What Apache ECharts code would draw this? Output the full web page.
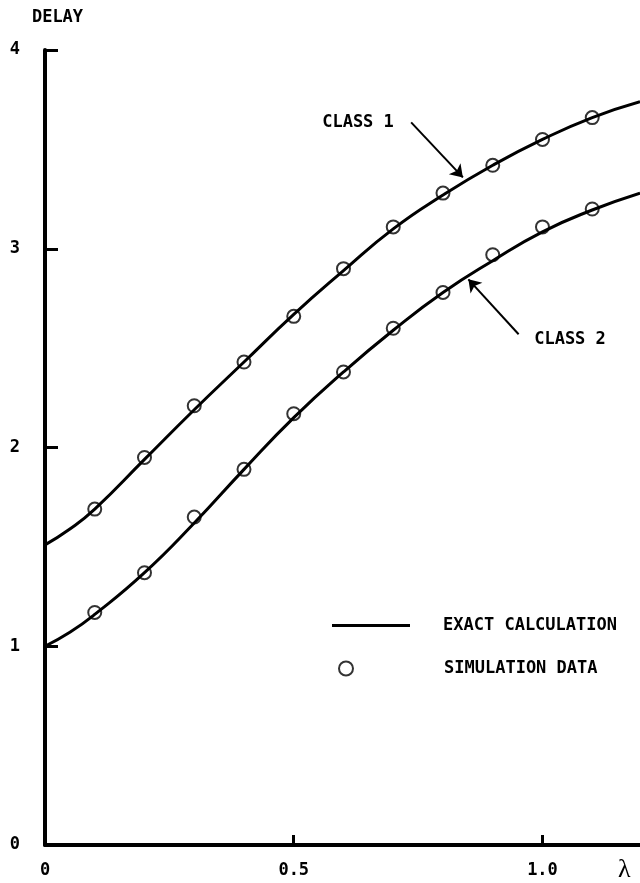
<!DOCTYPE html>
<html>
<head>
<meta charset="utf-8">
<script src="https://cdn.jsdelivr.net/npm/echarts@6/dist/echarts.min.js"></script>
<style>
html,body{margin:0;padding:0;background:#fff;}
#chart{width:640px;height:883px;}
</style>
</head>
<body>
<div id="chart"></div>
<script>
// ---- data ----
const lambdaSim = [0.1, 0.2, 0.3, 0.4, 0.5, 0.6, 0.7, 0.8, 0.9, 1.0, 1.1];
const class1Sim = [1.69, 1.95, 2.21, 2.43, 2.66, 2.90, 3.11, 3.28, 3.42, 3.55, 3.66];
const class2Sim = [1.17, 1.37, 1.65, 1.89, 2.17, 2.38, 2.60, 2.78, 2.97, 3.11, 3.20];

const lambdaExact = [0, 0.05, 0.1, 0.2, 0.3, 0.4, 0.5, 0.6, 0.7, 0.8, 0.9, 1.0, 1.1, 1.196];
const class1Exact = [1.51, 1.59, 1.69, 1.94, 2.19, 2.43, 2.67, 2.89, 3.10, 3.27, 3.42, 3.55, 3.66, 3.74];
const class2Exact = [1.00, 1.07, 1.16, 1.37, 1.62, 1.89, 2.15, 2.38, 2.59, 2.78, 2.94, 3.085, 3.195, 3.28];

const xTickLabels = ['0', '0.5', '1.0'];
const yTickLabels = ['0', '1', '2', '3', '4'];

// annotation arrows (data coordinates: tail -> head)
const arrowClass1 = [[0.736, 3.636], [0.840, 3.359]];
const arrowClass2 = [[0.952, 2.570], [0.851, 2.846]];

const zip = (xs, ys) => xs.map((x, i) => [x, ys[i]]);
const FONT = '"DejaVu Sans Mono", "Liberation Mono", monospace';

const chart = echarts.init(document.getElementById('chart'), null, {renderer: 'canvas'});
const option = {
  backgroundColor: '#fff',
  animation: false,
  grid: {left: 45, right: -3, top: 50, bottom: 38, containLabel: false},
  xAxis: {
    type: 'value', min: 0, max: 1.196, interval: 0.5,
    name: 'λ', nameLocation: 'end', nameGap: -22,
    nameTextStyle: {fontFamily: '"Liberation Serif", "DejaVu Serif", serif', fontSize: 26, color: '#000', verticalAlign: 'top', padding: [12, 0, 0, 0]},
    axisLine: {show: true, lineStyle: {color: '#000', width: 4}},
    axisTick: {show: true, inside: true, length: 10, lineStyle: {color: '#000', width: 3}},
    axisLabel: {
      show: true, margin: 17, color: '#000', fontFamily: FONT, fontWeight: 'bold', fontSize: 17,
      showMaxLabel: false,
      formatter: v => { const i = Math.round(v / 0.5); return (Math.abs(v - i * 0.5) < 1e-6 && xTickLabels[i] !== undefined) ? xTickLabels[i] : ''; }
    },
    splitLine: {show: false}
  },
  yAxis: {
    type: 'value', min: 0, max: 4, interval: 1,
    name: 'DELAY', nameLocation: 'end', nameGap: 24,
    nameTextStyle: {fontFamily: FONT, fontWeight: 'bold', fontSize: 17, color: '#000', align: 'center', padding: [0, 0, 0, 25]},
    axisLine: {show: true, lineStyle: {color: '#000', width: 4}},
    axisTick: {show: true, inside: true, length: 13, lineStyle: {color: '#000', width: 3}},
    axisLabel: {
      show: true, margin: 25, color: '#000', fontFamily: FONT, fontWeight: 'bold', fontSize: 17,
      padding: [8, 0, 0, 0],
      formatter: v => yTickLabels[Math.round(v)] !== undefined ? yTickLabels[Math.round(v)] : ''
    },
    splitLine: {show: false}
  },
  legend: [
    {
      data: [{name: 'EXACT CALCULATION', icon: 'rect', itemStyle: {color: '#000', borderWidth: 0}}],
      selectedMode: false, orient: 'vertical',
      left: 332, top: 617, padding: 0, itemWidth: 78, itemHeight: 3,
      textStyle: {fontFamily: FONT, fontWeight: 'bold', fontSize: 17, color: '#000', padding: [8, 0, 0, 28]}
    },
    {
      data: [{name: 'SIMULATION DATA', icon: 'circle', itemStyle: {color: 'rgba(0,0,0,0)', borderColor: '#000', borderWidth: 2}}],
      selectedMode: false, orient: 'vertical',
      left: 338, top: 660, padding: 0, itemWidth: 14, itemHeight: 14,
      textStyle: {fontFamily: FONT, fontWeight: 'bold', fontSize: 17, color: '#000', padding: [0, 0, 0, 86]}
    }
  ],
  series: [
    {
      name: 'EXACT CALCULATION', type: 'line', data: zip(lambdaExact, class1Exact),
      smooth: 0.5, symbol: 'none', silent: true,
      lineStyle: {color: '#000', width: 3}, itemStyle: {color: '#000'},
      markLine: {
        silent: true, symbol: ['none', 'arrow'], symbolSize: 12,
        lineStyle: {color: '#000', width: 2, type: 'solid'}, label: {show: false},
        data: [
          [{coord: arrowClass1[0]}, {coord: arrowClass1[1]}],
          [{coord: arrowClass2[0]}, {coord: arrowClass2[1]}]
        ]
      }
    },
    {
      name: 'EXACT CALCULATION', type: 'line', data: zip(lambdaExact, class2Exact),
      smooth: 0.5, symbol: 'none', silent: true,
      lineStyle: {color: '#000', width: 3}, itemStyle: {color: '#000'}
    },
    {
      name: 'SIMULATION DATA', type: 'scatter', data: zip(lambdaSim, class1Sim),
      symbol: 'circle', symbolSize: 13, silent: true,
      itemStyle: {color: 'rgba(0,0,0,0)', borderColor: '#000', borderWidth: 2}
    },
    {
      name: 'SIMULATION DATA', type: 'scatter', data: zip(lambdaSim, class2Sim),
      symbol: 'circle', symbolSize: 13, silent: true,
      itemStyle: {color: 'rgba(0,0,0,0)', borderColor: '#000', borderWidth: 2}
    }
  ],
  graphic: [
    {type: 'text', x: 358, y: 123, silent: true,
     style: {text: 'CLASS 1', fontFamily: FONT, fontWeight: 'bold', fontSize: 17, fill: '#000', align: 'center', verticalAlign: 'middle'}},
    {type: 'text', x: 570, y: 340, silent: true,
     style: {text: 'CLASS 2', fontFamily: FONT, fontWeight: 'bold', fontSize: 17, fill: '#000', align: 'center', verticalAlign: 'middle'}}
  ]
};
chart.setOption(option);
</script>
</body>
</html>
